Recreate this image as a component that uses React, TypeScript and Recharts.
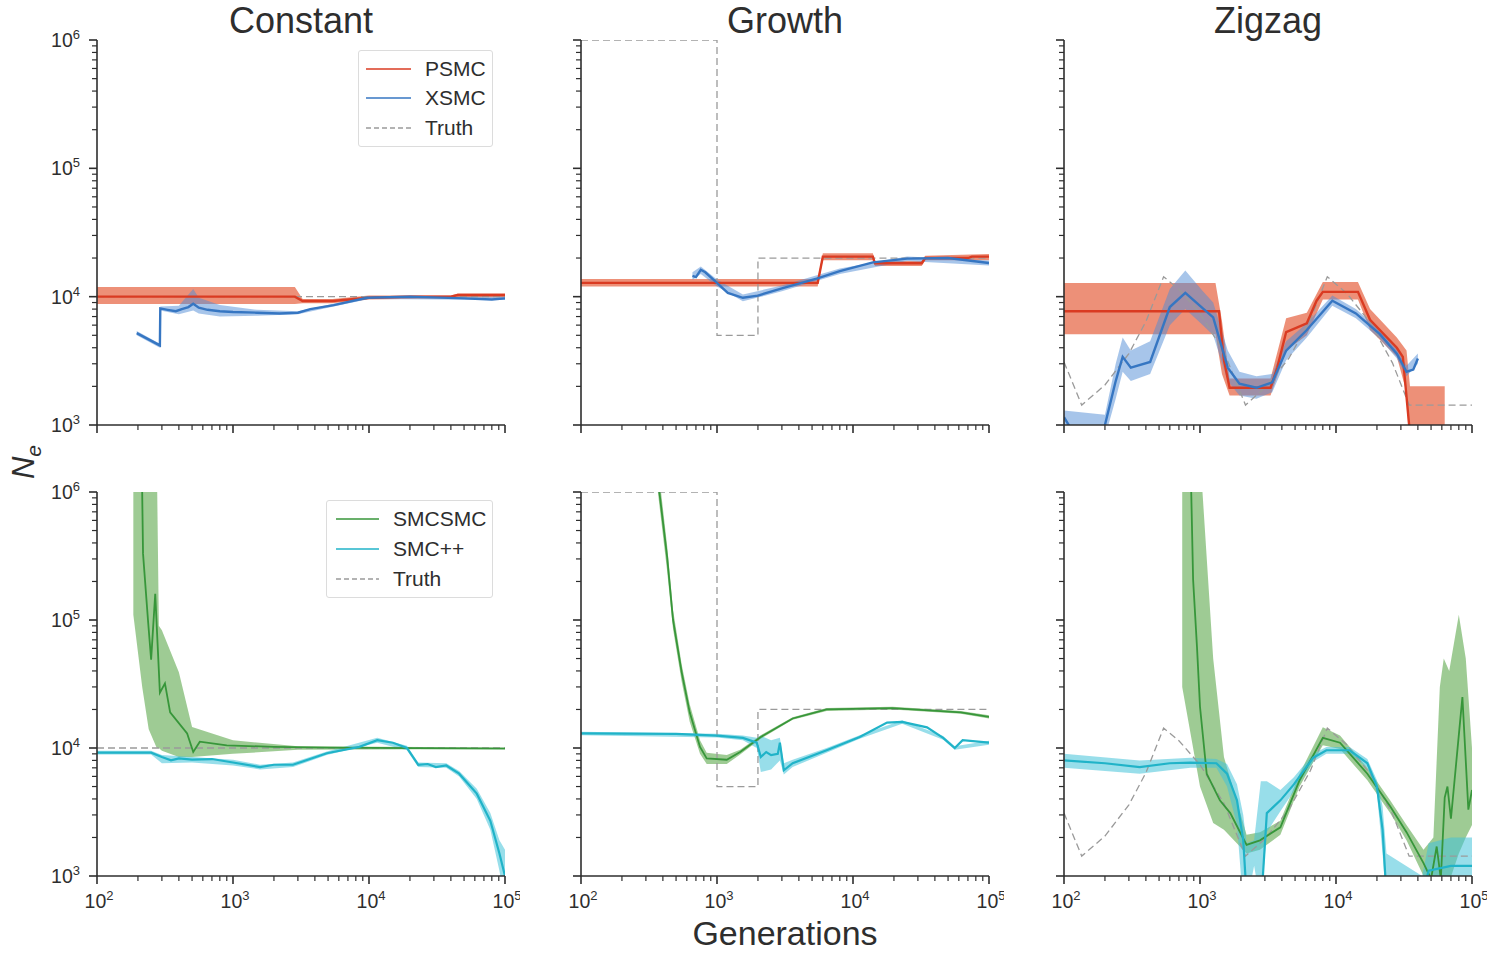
import React from 'react'
import { ComposedChart, Line, Area, XAxis, YAxis, Legend } from 'recharts'

// points are [generations, Ne]; bands are [generations, low, high]
type P = [number, number]
type B = [number, number, number]

// ---- true histories
const TRUTH_CONSTANT: P[] = [[100, 10000], [100000, 10000]]
const TRUTH_GROWTH: P[] = [[100, 1000000], [1000, 1000000], [1000, 5000], [2000, 5000], [2000, 20000], [100000, 20000]]
const TRUTH_ZIGZAG: P[] = [
  [100, 3100], [135, 1430], [200, 2050], [300, 3600], [400, 6400], [540, 14300], [700, 11400], [1000, 7400],
  [1500, 3700], [2160, 1430], [3000, 1950], [4500, 3300], [6500, 6700], [8630, 14300], [12000, 10600],
  [18000, 6200], [26000, 3050], [34500, 1430], [100000, 1430],
]

// ---- PSMC
const PSMC_CONSTANT: P[] = [[100, 10000], [2850, 10000], [3250, 9250], [5400, 9250], [10000, 9800], [20000, 10000], [40000, 10000], [45000, 10300], [100000, 10300]]
const PSMC_CONSTANT_CI: B[] = [[100, 8750, 11900], [2850, 8750, 11900], [3250, 8900, 9600], [5400, 8900, 9600], [10000, 9500, 10200], [40000, 9700, 10200], [45000, 9900, 10600], [100000, 9900, 10600]]
const PSMC_GROWTH: P[] = [[100, 12800], [5500, 12800], [6000, 20500], [14000, 20500], [14500, 18200], [32000, 18200], [34000, 20000], [70000, 20000], [75000, 20500], [100000, 20500]]
const PSMC_GROWTH_CI: B[] = [[100, 12000, 13700], [5500, 12000, 13700], [6000, 19200, 21800], [14000, 19200, 21800], [14500, 17300, 19000], [32000, 17300, 19000], [34000, 19200, 20800], [100000, 19200, 21500]]
const PSMC_ZIGZAG: P[] = [
  [100, 7700], [1380, 7700], [1500, 3200], [1650, 1950], [3300, 1950], [3700, 2800], [4300, 5300], [6100, 6200],
  [7200, 9300], [8000, 10900], [14500, 10900], [17800, 6600], [28000, 4000], [31000, 3400], [34500, 1000], [38000, 600],
]
const PSMC_ZIGZAG_CI: B[] = [
  [100, 5100, 12800], [1300, 5100, 12800], [1450, 2500, 6500], [1650, 1700, 2300], [3300, 1700, 2300], [4300, 3800, 6800],
  [6100, 5000, 7500], [8000, 9500, 13000], [14500, 9500, 13000], [17800, 5500, 8000], [28000, 3400, 4800],
  [33000, 1800, 3800], [35000, 500, 2000], [63000, 500, 2000],
]

// ---- XSMC
const XSMC_CONSTANT: P[] = [
  [196, 5200], [290, 4170], [292, 8100], [330, 7900], [380, 7700], [420, 8000], [470, 8300], [510, 8800], [560, 8200],
  [650, 7900], [800, 7700], [1000, 7600], [1500, 7500], [2200, 7400], [3000, 7500], [3700, 8000], [5500, 8600],
  [9700, 9800], [20000, 10000], [50000, 9700], [80000, 9500], [100000, 9700],
]
const XSMC_CONSTANT_CI: B[] = [
  [196, 5000, 5400], [290, 4000, 4300], [292, 7800, 8400], [400, 7300, 8500], [510, 7800, 11500], [560, 7400, 9800],
  [800, 7000, 8600], [1500, 7100, 7900], [3000, 7300, 7700], [5500, 8400, 8800], [10000, 9600, 10000], [100000, 9400, 10000],
]
const XSMC_GROWTH: P[] = [
  [660, 14500], [700, 14200], [760, 16200], [820, 15500], [1000, 12800], [1200, 10700], [1550, 9800], [2000, 10200],
  [3000, 11600], [5400, 13800], [8000, 15800], [14000, 18500], [25000, 19800], [50000, 20000], [100000, 18300],
]
const XSMC_GROWTH_CI: B[] = [
  [660, 13500, 15500], [760, 15000, 17200], [1000, 12000, 13600], [1550, 9200, 10400], [3000, 11000, 12200],
  [8000, 15000, 16600], [25000, 19000, 20600], [100000, 17500, 19100],
]
const XSMC_ZIGZAG: P[] = [
  [100, 1150], [115, 900], [190, 900], [200, 1000], [240, 2200], [270, 3400], [310, 2800], [430, 3100], [600, 8300],
  [780, 10700], [1050, 8100], [1250, 6900], [1600, 2800], [1950, 2100], [2600, 1950], [3400, 2150], [4300, 3800],
  [6100, 5500], [9400, 9300], [14000, 7400], [21000, 5100], [28000, 3600], [33000, 2600], [37000, 2700], [40000, 3300],
]
const XSMC_ZIGZAG_CI: B[] = [
  [100, 1000, 1300], [200, 800, 1200], [240, 1600, 3000], [270, 2600, 4800], [310, 2200, 3800], [430, 2500, 4500],
  [600, 6000, 11500], [780, 8000, 16000], [1050, 6000, 11000], [1250, 5000, 9000], [1600, 2200, 3800],
  [1950, 1700, 2600], [2600, 1600, 2400], [3400, 1800, 2500], [4300, 3200, 4500], [6100, 4800, 6200],
  [9400, 8500, 10200], [14000, 6800, 8000], [21000, 4700, 5500], [28000, 3300, 3900], [33000, 2400, 2900], [40000, 3000, 3600],
]

// ---- SMCSMC
const SMCSMC_CONSTANT: P[] = [
  [213, 2000000], [218, 330000], [237, 100000], [250, 49000], [268, 160000], [290, 27000], [316, 32000], [345, 19000],
  [460, 13000], [510, 9300], [570, 11200], [900, 10500], [2000, 10200], [5000, 10050], [100000, 9900],
]
const SMCSMC_CONSTANT_CI: B[] = [
  [185, 110000, 2000000], [215, 30000, 2000000], [240, 14000, 2000000], [275, 10000, 2000000], [285, 10000, 90000],
  [300, 9500, 83000], [400, 8500, 39000], [500, 8500, 14600], [1000, 9000, 11500], [3000, 9700, 10300], [100000, 9800, 10100],
]
const SMCSMC_GROWTH: P[] = [
  [360, 1500000], [430, 310000], [475, 100000], [550, 39000], [630, 19000], [750, 10200], [840, 8300], [1180, 8100],
  [1480, 9300], [2100, 12200], [3600, 17000], [6400, 20000], [19500, 20500], [62000, 19000], [100000, 17500],
]
const SMCSMC_GROWTH_CI: B[] = [
  [360, 1200000, 2000000], [430, 240000, 380000], [475, 85000, 120000], [550, 33000, 45000], [630, 16000, 22000],
  [750, 9000, 11500], [840, 7500, 9200], [1180, 7500, 8800], [1480, 8900, 9700], [2100, 11800, 12600],
  [3600, 16600, 17400], [6400, 19500, 20500], [19500, 20000, 21000], [62000, 18500, 19500], [100000, 17000, 18000],
]
const SMCSMC_ZIGZAG: P[] = [
  [850, 2000000], [890, 206000], [950, 62000], [1000, 21000], [1120, 6300], [1400, 3900], [1670, 3100], [2200, 1750],
  [2760, 1900], [3900, 2400], [5400, 5600], [8000, 12000], [10700, 11000], [17000, 6300], [25000, 3500], [33000, 2200],
  [44000, 1260], [50000, 950], [55000, 1700], [59000, 950], [63000, 4100], [66000, 5000], [70000, 2800], [85000, 25000],
  [94000, 3300], [100000, 4700],
]
const SMCSMC_ZIGZAG_CI: B[] = [
  [740, 30000, 2000000], [1000, 5000, 2000000], [1250, 2600, 50000], [1500, 2300, 8500], [2200, 1500, 2100],
  [2760, 1600, 2200], [3900, 2100, 2700], [5400, 5000, 6300], [8000, 10500, 14500], [10700, 9800, 12500],
  [17000, 5600, 7000], [25000, 3100, 3900], [33000, 1900, 2500], [44000, 1000, 1600], [52000, 700, 2000],
  [58000, 700, 30000], [62000, 800, 50000], [68000, 900, 40000], [80000, 1500, 110000], [90000, 2000, 50000], [100000, 2500, 10000],
]

// ---- SMC++
const SMCPP_CONSTANT: P[] = [
  [100, 9200], [250, 9200], [300, 8500], [350, 8000], [400, 8300], [500, 8100], [700, 8200], [1000, 7700], [1580, 7100],
  [2000, 7400], [2760, 7400], [4900, 9100], [8500, 10200], [11500, 11500], [15000, 11000], [19000, 10000], [23000, 7400],
  [27000, 7500], [31000, 7100], [37000, 7300], [46000, 6300], [62000, 4400], [78000, 2700], [91000, 1500], [100000, 1000],
]
const SMCPP_CONSTANT_CI: B[] = [
  [100, 8900, 9500], [250, 8900, 9500], [300, 7600, 8800], [500, 7700, 8500], [1000, 7300, 8100], [1580, 6800, 7400],
  [2760, 7100, 7700], [4900, 8800, 9400], [11500, 11000, 12000], [19000, 9600, 10400], [23000, 7100, 7700],
  [37000, 7000, 7600], [46000, 6000, 6600], [62000, 4000, 4800], [78000, 2300, 3100], [91000, 1100, 1900], [100000, 600, 1600],
]
const SMCPP_GROWTH: P[] = [
  [100, 13000], [500, 12900], [1000, 12500], [1550, 12000], [1960, 11000], [2100, 8500], [2300, 9300], [2500, 8800],
  [2800, 9000], [2900, 11000], [3100, 6700], [3600, 7600], [6400, 9600], [11200, 12200], [17800, 15800], [23000, 16000],
  [35000, 14500], [46000, 12000], [56000, 10000], [64000, 11500], [100000, 11000],
]
const SMCPP_GROWTH_CI: B[] = [
  [100, 12600, 13400], [1000, 12100, 12900], [1550, 11500, 12500], [1960, 10000, 12000], [2100, 6500, 12500],
  [2500, 6800, 11500], [2900, 8000, 12000], [3100, 6200, 7600], [3600, 7100, 8100], [6400, 9200, 10000],
  [11200, 11800, 12600], [23000, 15500, 16500], [46000, 11600, 12400], [56000, 9700, 10300], [100000, 10600, 11400],
]
const SMCPP_ZIGZAG: P[] = [
  [100, 8000], [200, 7600], [360, 7100], [600, 7600], [850, 7700], [1320, 7600], [1580, 6300], [1870, 3900], [2080, 1900],
  [2200, 700], [2800, 700], [2900, 1000], [3100, 3100], [3900, 3900], [4900, 5200], [6800, 8400], [8500, 9600],
  [12600, 9600], [17000, 7600], [20000, 5000], [22000, 2300], [23500, 700], [43000, 700], [48000, 1100], [70000, 1200], [100000, 1200],
]
const SMCPP_ZIGZAG_CI: B[] = [
  [100, 7000, 9000], [360, 6300, 8000], [850, 7000, 8400], [1320, 7000, 8200], [1580, 5000, 7500], [1870, 2500, 5200],
  [2080, 600, 3000], [2200, 600, 1800], [2500, 1200, 1900], [2800, 600, 5500], [3100, 2200, 5500], [3900, 3200, 4700],
  [4900, 4600, 5900], [6800, 7800, 9000], [8500, 9000, 10200], [12600, 9000, 10200], [17000, 7000, 8200],
  [20000, 4400, 5600], [22000, 1500, 3500], [23500, 600, 1500], [43000, 600, 1000], [48000, 800, 1800],
  [70000, 800, 2000], [100000, 800, 2000],
]

// ---- axes
const X_MAJOR = [100, 1000, 10000, 100000]
const Y_MAJOR = [1000, 10000, 100000, 1000000]
const MINOR_STEPS = [2, 3, 4, 5, 6, 7, 8, 9]
const TITLES = ['Constant', 'Growth', 'Zigzag']

const FONT = '"Liberation Sans", Arial, Helvetica, sans-serif'
const INK = '#2e2e2e'
const COLORS = {
  psmc: '#da3b22', psmcBand: '#e6613f',
  xsmc: '#3676c2', xsmcBand: '#4f8bd6',
  smcsmc: '#37963a', smcsmcBand: '#5ea84c',
  smcpp: '#20b3c8', smcppBand: '#44c3d8',
  truth: '#9a9a9a',
}

const withMinors = (major: number[]) => [...major, ...major.slice(0, -1).flatMap((m) => MINOR_STEPS.map((k) => m * k))]
const X_TICKS = withMinors(X_MAJOR)
const Y_TICKS = withMinors(Y_MAJOR)

const toPts = (arr: P[]) => arr.map(([x, y]) => ({ x, y }))
const toBand = (arr: B[]) => arr.map(([x, lo, hi]) => ({ x, r: [lo, hi] }))
const decade = (v: number) => Math.round(Math.log10(v))
const isMajor = (v: number) => Math.abs(Math.log10(v) - decade(v)) < 1e-9

function XTick(props: any) {
  const { x, y, payload, labelled } = props
  const v = payload.value
  const major = isMajor(v)
  return (
    <g>
      <line x1={x} x2={x} y1={y} y2={y + (major ? 8 : 5)} stroke={INK} strokeWidth={major ? 1.6 : 1.2} />
      {major && labelled && (
        <text x={x + 2} y={y + 32} textAnchor="middle" fill={INK} fontSize={19.5} fontFamily={FONT}>
          10<tspan dy={-8} fontSize={13}>{decade(v)}</tspan>
        </text>
      )}
    </g>
  )
}

function YTick(props: any) {
  const { x, y, payload, labelled } = props
  const v = payload.value
  const major = isMajor(v)
  return (
    <g>
      <line x1={x - (major ? 8 : 5)} x2={x} y1={y} y2={y} stroke={INK} strokeWidth={major ? 1.6 : 1.2} />
      {major && labelled && (
        <text x={x - 17} y={y + 7} textAnchor="end" fill={INK} fontSize={19.5} fontFamily={FONT}>
          10<tspan dy={-8} fontSize={13}>{decade(v)}</tspan>
        </text>
      )}
    </g>
  )
}

type Item = { name: string; color: string; dashed?: boolean }

function LegendBox({ items, width, lineX, lineW, rowH }: { items: Item[]; width: number; lineX: number; lineW: number; rowH: number }) {
  return (
    <div style={{
      width, boxSizing: 'border-box', border: '1px solid #dcdcdc', borderRadius: 3, background: 'rgba(255,255,255,0.9)',
      padding: '3px 0', fontFamily: FONT, fontSize: 21, color: INK,
    }}>
      {items.map((it) => (
        <div key={it.name} style={{ display: 'flex', alignItems: 'center', height: rowH }}>
          <svg width={66} height={10} style={{ flex: 'none' }}>
            <line x1={lineX} x2={lineX + lineW} y1={5} y2={5} stroke={it.color} strokeWidth={1.6}
              strokeDasharray={it.dashed ? '5 3' : undefined} />
          </svg>
          <span>{it.name}</span>
        </div>
      ))}
    </div>
  )
}

type Method = { line: P[]; band: B[]; color: string; bandColor: string; bandOpacity: number; width: number }

type PanelProps = {
  x0: number; y0: number; h: number
  truth: P[]; methods: Method[]
  xLabels: boolean; yLabels: boolean
  legend?: { items: Item[]; left: number; top: number; width: number; lineX: number; lineW: number; rowH: number }
}

function Panel({ x0, y0, h, truth, methods, xLabels, yLabels, legend }: PanelProps) {
  const W = 408
  const margin = { top: 15, right: 15, left: 10, bottom: 10 }
  return (
    <div style={{ position: 'absolute', left: x0 - 60, top: y0 - 15 }}>
      <ComposedChart width={60 + W + 15} height={15 + h + 40} margin={margin}>
        <XAxis
          dataKey="x" type="number" scale="log" domain={[100, 100000]} allowDataOverflow
          ticks={X_TICKS} interval={0} height={30} tickSize={0} tickMargin={0} tickLine={false}
          axisLine={{ stroke: INK, strokeWidth: 1.6 }}
          tick={(p: any) => <XTick {...p} labelled={xLabels} />}
        />
        <YAxis
          type="number" scale="log" domain={[1000, 1000000]} allowDataOverflow
          ticks={Y_TICKS} interval={0} width={50} tickSize={0} tickMargin={0} tickLine={false}
          axisLine={{ stroke: INK, strokeWidth: 1.6 }}
          tick={(p: any) => <YTick {...p} labelled={yLabels} />}
        />
        <Line data={toPts(truth)} dataKey="y" type="linear" stroke={COLORS.truth} strokeWidth={1.3}
          strokeDasharray="7 4" dot={false} activeDot={false} isAnimationActive={false} />
        {methods.map((m, i) => (
          <Area key={`band${i}`} data={toBand(m.band)} dataKey="r" type="linear" stroke="none"
            fill={m.bandColor} fillOpacity={m.bandOpacity} activeDot={false} isAnimationActive={false} />
        ))}
        {methods.map((m, i) => (
          <Line key={`line${i}`} data={toPts(m.line)} dataKey="y" type="linear" stroke={m.color}
            strokeWidth={m.width} dot={false} activeDot={false} isAnimationActive={false} />
        ))}
        {legend && (
          <Legend
            layout="vertical" align="center" verticalAlign="middle"
            wrapperStyle={{ left: legend.left, top: legend.top, width: legend.width }}
            content={() => (
              <LegendBox items={legend.items} width={legend.width} lineX={legend.lineX} lineW={legend.lineW} rowH={legend.rowH} />
            )}
          />
        )}
      </ComposedChart>
    </div>
  )
}

const COL_X = [97, 581, 1064]
const ROW_Y = [40, 492]
const ROW_H = [385, 384]

const psmc = (line: P[], band: B[]): Method => ({ line, band, color: COLORS.psmc, bandColor: COLORS.psmcBand, bandOpacity: 0.7, width: 2.4 })
const xsmc = (line: P[], band: B[]): Method => ({ line, band, color: COLORS.xsmc, bandColor: COLORS.xsmcBand, bandOpacity: 0.5, width: 2.4 })
const smcsmc = (line: P[], band: B[]): Method => ({ line, band, color: COLORS.smcsmc, bandColor: COLORS.smcsmcBand, bandOpacity: 0.6, width: 1.8 })
const smcpp = (line: P[], band: B[]): Method => ({ line, band, color: COLORS.smcpp, bandColor: COLORS.smcppBand, bandOpacity: 0.55, width: 2.2 })

const TOP_LEGEND: Item[] = [
  { name: 'PSMC', color: COLORS.psmc },
  { name: 'XSMC', color: COLORS.xsmc },
  { name: 'Truth', color: COLORS.truth, dashed: true },
]
const BOTTOM_LEGEND: Item[] = [
  { name: 'SMCSMC', color: COLORS.smcsmc },
  { name: 'SMC++', color: COLORS.smcpp },
  { name: 'Truth', color: COLORS.truth, dashed: true },
]

export default function App() {
  const truths = [TRUTH_CONSTANT, TRUTH_GROWTH, TRUTH_ZIGZAG]
  const top = [
    [psmc(PSMC_CONSTANT, PSMC_CONSTANT_CI), xsmc(XSMC_CONSTANT, XSMC_CONSTANT_CI)],
    [psmc(PSMC_GROWTH, PSMC_GROWTH_CI), xsmc(XSMC_GROWTH, XSMC_GROWTH_CI)],
    [psmc(PSMC_ZIGZAG, PSMC_ZIGZAG_CI), xsmc(XSMC_ZIGZAG, XSMC_ZIGZAG_CI)],
  ]
  const bottom = [
    [smcsmc(SMCSMC_CONSTANT, SMCSMC_CONSTANT_CI), smcpp(SMCPP_CONSTANT, SMCPP_CONSTANT_CI)],
    [smcsmc(SMCSMC_GROWTH, SMCSMC_GROWTH_CI), smcpp(SMCPP_GROWTH, SMCPP_GROWTH_CI)],
    [smcsmc(SMCSMC_ZIGZAG, SMCSMC_ZIGZAG_CI), smcpp(SMCPP_ZIGZAG, SMCPP_ZIGZAG_CI)],
  ]
  return (
    <div style={{ position: 'absolute', left: 0, top: 0, width: 1500, height: 962, background: '#fff', overflow: 'hidden', fontFamily: FONT }}>
      {COL_X.map((x0, c) => (
        <Panel key={`t${c}`} x0={x0} y0={ROW_Y[0]} h={ROW_H[0]} truth={truths[c]} methods={top[c]}
          xLabels={false} yLabels={c === 0}
          legend={c === 0 ? { items: TOP_LEGEND, left: 321, top: 25, width: 135, lineX: 7, lineW: 45, rowH: 29.5 } : undefined} />
      ))}
      {COL_X.map((x0, c) => (
        <Panel key={`b${c}`} x0={x0} y0={ROW_Y[1]} h={ROW_H[1]} truth={truths[c]} methods={bottom[c]}
          xLabels yLabels={c === 0}
          legend={c === 0 ? { items: BOTTOM_LEGEND, left: 289, top: 23, width: 167, lineX: 9, lineW: 43, rowH: 30 } : undefined} />
      ))}
      <svg width={1500} height={962} style={{ position: 'absolute', left: 0, top: 0, pointerEvents: 'none' }}>
        {TITLES.map((t, c) => (
          <text key={t} x={COL_X[c] + 204} y={33} textAnchor="middle" fontSize={36} fontFamily={FONT} fill={INK}>{t}</text>
        ))}
        <text transform="translate(34, 462) rotate(-90)" textAnchor="middle" fontSize={31} fontStyle="italic" fontFamily={FONT} fill={INK}>
          N<tspan dy={7} fontSize={21}>e</tspan>
        </text>
        <text x={785} y={945} textAnchor="middle" fontSize={34} fontFamily={FONT} fill={INK}>Generations</text>
      </svg>
    </div>
  )
}
